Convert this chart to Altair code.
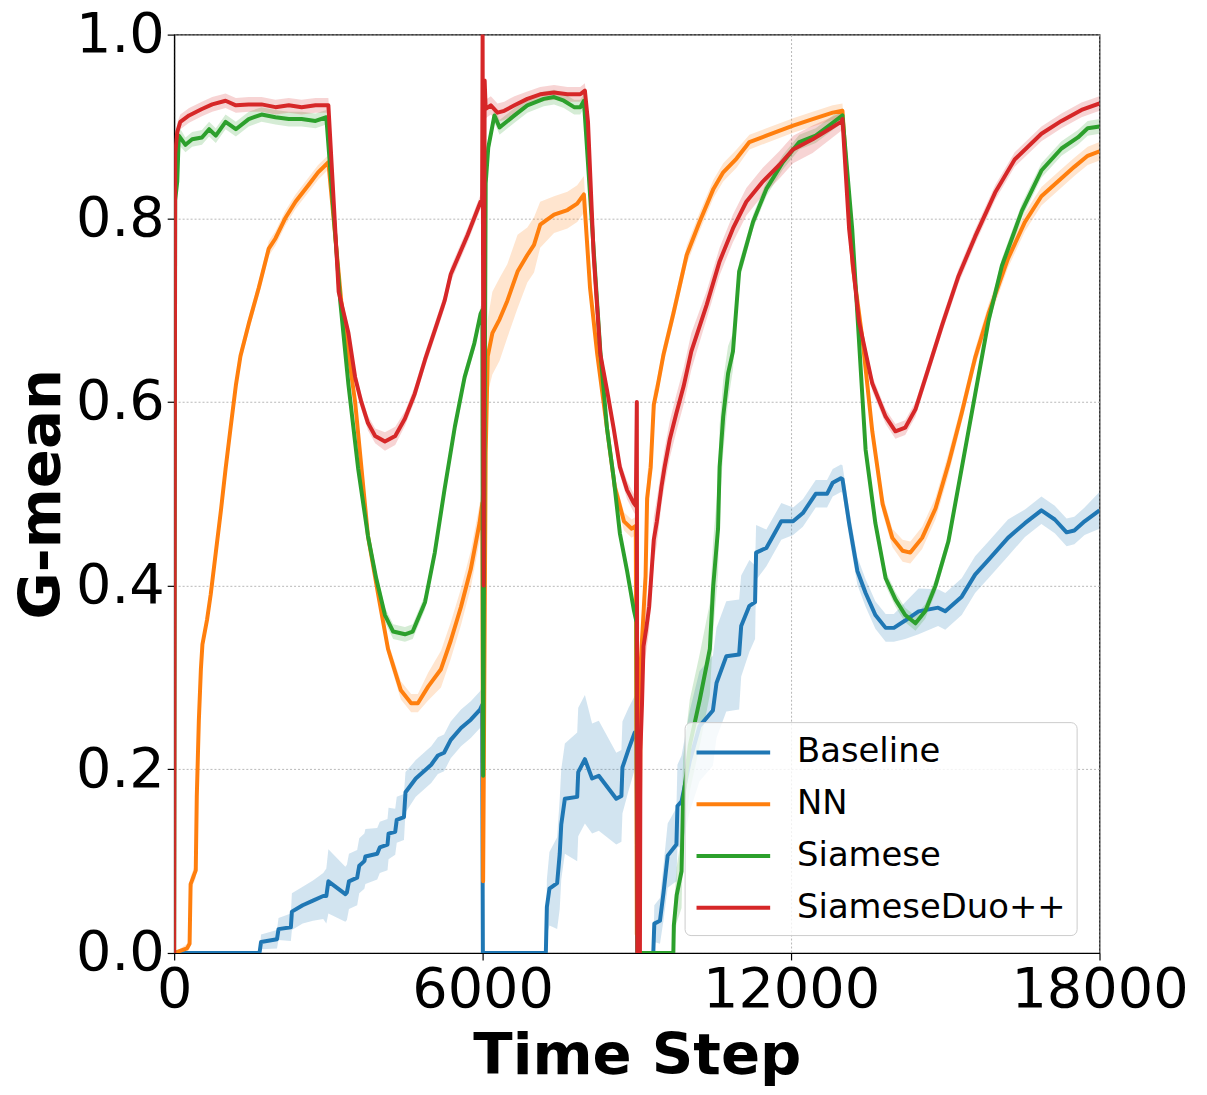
import altair as alt
import pandas as pd

SERIES = ["Baseline", "NN", "Siamese", "SiameseDuo++"]
COLORS = ["#1f77b4", "#ff7f0e", "#2ca02c", "#d62728"]
X_TICKS = [0, 6000, 12000, 18000]
Y_TICKS = [0.0, 0.2, 0.4, 0.6, 0.8, 1.0]

# (time step, mean G-mean, spread of shaded band)
BASELINE = [
    (0, 0.0, 0.0), (1660, 0.0, 0.0), (1690, 0.012, 0.008), (2000, 0.015, 0.01), (2030, 0.026, 0.012),
    (2270, 0.028, 0.015), (2290, 0.045, 0.02), (2500, 0.052, 0.02), (2700, 0.057, 0.022), (2900, 0.062, 0.025),
    (2960, 0.062, 0.03), (3000, 0.078, 0.035), (3330, 0.064, 0.03), (3360, 0.066, 0.03), (3400, 0.078, 0.03),
    (3560, 0.082, 0.03), (3600, 0.095, 0.03), (3700, 0.1, 0.03), (3720, 0.105, 0.03), (3950, 0.108, 0.028),
    (4000, 0.115, 0.028), (4150, 0.118, 0.028), (4170, 0.13, 0.028), (4300, 0.132, 0.025), (4330, 0.145, 0.025),
    (4470, 0.148, 0.025), (4500, 0.175, 0.022), (4700, 0.19, 0.02), (5000, 0.205, 0.02), (5130, 0.215, 0.02),
    (5250, 0.218, 0.02), (5380, 0.232, 0.02), (5580, 0.245, 0.02), (5770, 0.254, 0.02), (5950, 0.265, 0.02),
    (5990, 0.27, 0.02), (6005, 0.0, 0.0), (7230, 0.0, 0.0), (7250, 0.05, 0.03), (7300, 0.07, 0.04),
    (7450, 0.076, 0.05), (7500, 0.108, 0.06), (7530, 0.14, 0.06), (7600, 0.168, 0.06), (7840, 0.17, 0.07),
    (7860, 0.197, 0.07), (7990, 0.211, 0.07), (8130, 0.19, 0.06), (8260, 0.193, 0.06), (8600, 0.168, 0.05),
    (8700, 0.171, 0.05), (8720, 0.202, 0.05), (8840, 0.222, 0.045), (8960, 0.24, 0.04), (8995, 0.24, 0.04),
    (9010, 0.0, 0.0), (9320, 0.0, 0.0), (9340, 0.032, 0.02), (9450, 0.035, 0.025), (9520, 0.066, 0.03),
    (9600, 0.106, 0.035), (9770, 0.118, 0.04), (9790, 0.16, 0.045), (9870, 0.165, 0.05), (10030, 0.209, 0.055),
    (10220, 0.247, 0.06), (10480, 0.264, 0.06), (10550, 0.294, 0.06), (10740, 0.323, 0.06), (10990, 0.325, 0.06),
    (11030, 0.356, 0.055), (11190, 0.378, 0.05), (11300, 0.382, 0.04), (11320, 0.436, 0.03), (11520, 0.441, 0.02),
    (11810, 0.47, 0.02), (12040, 0.47, 0.015), (12230, 0.479, 0.015), (12480, 0.5, 0.015), (12700, 0.5, 0.015),
    (12810, 0.512, 0.015), (12970, 0.517, 0.015), (13000, 0.516, 0.015), (13130, 0.468, 0.015), (13290, 0.416, 0.015),
    (13450, 0.392, 0.015), (13640, 0.368, 0.015), (13840, 0.354, 0.015), (14000, 0.354, 0.015), (14220, 0.362, 0.02),
    (14480, 0.372, 0.025), (14860, 0.376, 0.02), (15000, 0.372, 0.02), (15320, 0.388, 0.02), (15580, 0.412, 0.02),
    (15840, 0.428, 0.02), (16220, 0.452, 0.02), (16550, 0.468, 0.015), (16870, 0.482, 0.015), (17130, 0.472, 0.015),
    (17360, 0.458, 0.015), (17510, 0.46, 0.015), (17710, 0.47, 0.015), (18000, 0.482, 0.02),
]

NN = [
    (0, 0.0, 0.0), (250, 0.005, 0.005), (300, 0.01, 0.005), (320, 0.075, 0.008), (420, 0.09, 0.008),
    (440, 0.17, 0.008), (480, 0.253, 0.008), (520, 0.309, 0.008), (550, 0.336, 0.008), (640, 0.363, 0.008),
    (710, 0.39, 0.008), (810, 0.436, 0.008), (910, 0.482, 0.008), (1000, 0.527, 0.008), (1100, 0.573, 0.008),
    (1200, 0.618, 0.008), (1290, 0.65, 0.008), (1450, 0.685, 0.008), (1645, 0.724, 0.008), (1840, 0.767, 0.008),
    (1970, 0.778, 0.008), (2160, 0.8, 0.008), (2360, 0.818, 0.008), (2610, 0.836, 0.008), (2800, 0.85, 0.008),
    (3000, 0.861, 0.008), (3250, 0.71, 0.008), (3520, 0.6, 0.008), (3770, 0.454, 0.008), (3970, 0.39, 0.008),
    (4160, 0.331, 0.008), (4410, 0.286, 0.01), (4610, 0.272, 0.01), (4740, 0.272, 0.01), (4940, 0.29, 0.015),
    (5190, 0.309, 0.02), (5380, 0.34, 0.02), (5580, 0.377, 0.02), (5770, 0.418, 0.02), (5940, 0.468, 0.02),
    (5995, 0.49, 0.02), (6010, 0.078, 0.01), (6060, 0.545, 0.04), (6100, 0.65, 0.04), (6190, 0.675, 0.045),
    (6330, 0.69, 0.045), (6480, 0.71, 0.04), (6680, 0.742, 0.04), (6870, 0.76, 0.03), (7000, 0.771, 0.03),
    (7120, 0.793, 0.025), (7390, 0.804, 0.02), (7650, 0.809, 0.02), (7840, 0.816, 0.02), (7970, 0.826, 0.02),
    (8090, 0.724, 0.01), (8230, 0.652, 0.01), (8420, 0.571, 0.01), (8570, 0.508, 0.01), (8750, 0.47, 0.01),
    (8900, 0.462, 0.01), (8980, 0.465, 0.01), (9000, 0.02, 0.01), (9060, 0.154, 0.03), (9080, 0.32, 0.03),
    (9130, 0.37, 0.03), (9170, 0.41, 0.03), (9200, 0.495, 0.025), (9270, 0.529, 0.02), (9330, 0.597, 0.015),
    (9390, 0.613, 0.01), (9520, 0.652, 0.01), (9710, 0.696, 0.01), (9970, 0.76, 0.01), (10220, 0.796, 0.01),
    (10490, 0.832, 0.01), (10680, 0.85, 0.01), (10940, 0.865, 0.01), (11190, 0.883, 0.008), (11520, 0.89, 0.008),
    (12040, 0.901, 0.008), (12420, 0.908, 0.008), (12810, 0.915, 0.008), (13000, 0.917, 0.008), (13200, 0.748, 0.008),
    (13390, 0.668, 0.008), (13580, 0.568, 0.008), (13780, 0.489, 0.01), (13970, 0.452, 0.01), (14170, 0.438, 0.012),
    (14320, 0.436, 0.012), (14550, 0.452, 0.012), (14810, 0.484, 0.012), (15060, 0.532, 0.012), (15320, 0.588, 0.01),
    (15580, 0.648, 0.01), (15840, 0.696, 0.01), (16220, 0.756, 0.01), (16550, 0.796, 0.01), (16870, 0.824, 0.01),
    (17190, 0.84, 0.01), (17510, 0.856, 0.01), (17770, 0.868, 0.01), (18000, 0.873, 0.01),
]

SIAMESE = [
    (0, 0.0, 0.0), (20, 0.82, 0.01), (60, 0.84, 0.01), (90, 0.89, 0.01), (220, 0.88, 0.008),
    (350, 0.886, 0.008), (540, 0.888, 0.008), (680, 0.897, 0.008), (810, 0.89, 0.008), (1000, 0.905, 0.008),
    (1200, 0.897, 0.008), (1450, 0.908, 0.008), (1700, 0.913, 0.008), (1970, 0.91, 0.008), (2230, 0.908, 0.008),
    (2480, 0.908, 0.008), (2750, 0.906, 0.008), (2960, 0.91, 0.008), (3230, 0.71, 0.008), (3390, 0.619, 0.008),
    (3580, 0.527, 0.008), (3770, 0.454, 0.008), (3930, 0.408, 0.008), (4100, 0.368, 0.008), (4260, 0.35, 0.008),
    (4490, 0.347, 0.008), (4640, 0.35, 0.008), (4880, 0.382, 0.008), (5070, 0.436, 0.008), (5260, 0.505, 0.008),
    (5460, 0.573, 0.008), (5650, 0.627, 0.008), (5840, 0.664, 0.008), (5960, 0.696, 0.008), (5995, 0.7, 0.008),
    (6010, 0.193, 0.008), (6060, 0.838, 0.01), (6110, 0.877, 0.01), (6230, 0.912, 0.008), (6330, 0.899, 0.008),
    (6620, 0.912, 0.008), (6870, 0.923, 0.008), (7190, 0.93, 0.008), (7390, 0.932, 0.008), (7580, 0.928, 0.008),
    (7780, 0.921, 0.008), (7900, 0.921, 0.008), (7970, 0.928, 0.008), (8290, 0.655, 0.008), (8420, 0.571, 0.008),
    (8550, 0.517, 0.008), (8670, 0.457, 0.008), (8810, 0.416, 0.008), (8940, 0.374, 0.008), (8995, 0.36, 0.008),
    (9010, 0.0, 0.0), (9710, 0.0, 0.0), (9720, 0.03, 0.02), (9775, 0.063, 0.03), (9870, 0.089, 0.04),
    (9900, 0.167, 0.045), (10030, 0.226, 0.05), (10225, 0.276, 0.05), (10420, 0.331, 0.05), (10485, 0.399, 0.05),
    (10580, 0.462, 0.05), (10610, 0.529, 0.045), (10680, 0.584, 0.04), (10775, 0.631, 0.03), (10870, 0.655, 0.02),
    (10990, 0.742, 0.01), (11260, 0.796, 0.008), (11520, 0.832, 0.008), (11840, 0.861, 0.008), (12160, 0.883, 0.008),
    (12480, 0.89, 0.008), (12740, 0.901, 0.008), (13000, 0.912, 0.008), (13190, 0.788, 0.008), (13320, 0.668, 0.008),
    (13450, 0.548, 0.008), (13640, 0.468, 0.008), (13840, 0.408, 0.008), (14030, 0.385, 0.008), (14220, 0.368, 0.008),
    (14420, 0.359, 0.008), (14610, 0.372, 0.008), (14810, 0.4, 0.008), (15060, 0.448, 0.008), (15320, 0.528, 0.008),
    (15580, 0.608, 0.008), (15840, 0.688, 0.008), (16100, 0.748, 0.008), (16490, 0.808, 0.008), (16870, 0.852, 0.008),
    (17260, 0.876, 0.008), (17580, 0.888, 0.008), (17770, 0.898, 0.008), (18000, 0.9, 0.008),
]

DUO = [
    (0, 0.0, 0.0), (20, 0.87, 0.01), (60, 0.894, 0.01), (120, 0.905, 0.008), (290, 0.912, 0.008),
    (540, 0.919, 0.008), (740, 0.924, 0.008), (1000, 0.928, 0.008), (1200, 0.923, 0.008), (1450, 0.924, 0.008),
    (1700, 0.924, 0.008), (1970, 0.921, 0.008), (2230, 0.923, 0.008), (2480, 0.921, 0.008), (2750, 0.923, 0.008),
    (3000, 0.923, 0.008), (3200, 0.72, 0.008), (3390, 0.675, 0.008), (3520, 0.627, 0.008), (3640, 0.6, 0.008),
    (3770, 0.577, 0.008), (3910, 0.563, 0.008), (4100, 0.557, 0.01), (4300, 0.563, 0.01), (4490, 0.582, 0.008),
    (4680, 0.609, 0.008), (4880, 0.646, 0.008), (5070, 0.678, 0.008), (5260, 0.71, 0.008), (5380, 0.739, 0.008),
    (5710, 0.782, 0.008), (5960, 0.818, 0.008), (5990, 0.82, 0.008), (6000, 1.0, 0.0), (6020, 0.4, 0.0),
    (6040, 0.95, 0.01), (6060, 0.919, 0.01), (6160, 0.923, 0.01), (6290, 0.915, 0.01), (6420, 0.917, 0.01),
    (6620, 0.923, 0.01), (6870, 0.93, 0.008), (7120, 0.935, 0.008), (7390, 0.937, 0.008), (7650, 0.935, 0.008),
    (7900, 0.935, 0.008), (7990, 0.939, 0.008), (8050, 0.905, 0.008), (8160, 0.76, 0.008), (8290, 0.652, 0.008),
    (8420, 0.613, 0.008), (8550, 0.571, 0.008), (8670, 0.529, 0.008), (8810, 0.504, 0.01), (8940, 0.49, 0.01),
    (8980, 0.487, 0.01), (9000, 0.6, 0.0), (9010, 0.0, 0.0), (9060, 0.0, 0.0), (9070, 0.22, 0.02),
    (9100, 0.27, 0.025), (9130, 0.334, 0.025), (9180, 0.352, 0.025), (9240, 0.377, 0.025), (9330, 0.45, 0.025),
    (9390, 0.47, 0.025), (9480, 0.508, 0.02), (9540, 0.529, 0.02), (9640, 0.559, 0.02), (9770, 0.588, 0.02),
    (9910, 0.617, 0.02), (10060, 0.655, 0.02), (10360, 0.706, 0.015), (10610, 0.753, 0.015), (10870, 0.789, 0.015),
    (11130, 0.818, 0.015), (11450, 0.84, 0.015), (11770, 0.858, 0.015), (12040, 0.875, 0.015), (12420, 0.886, 0.015),
    (12740, 0.897, 0.012), (12970, 0.905, 0.01), (13000, 0.908, 0.01), (13130, 0.788, 0.008), (13320, 0.688, 0.008),
    (13580, 0.62, 0.008), (13840, 0.584, 0.008), (14030, 0.568, 0.008), (14220, 0.572, 0.008), (14420, 0.592, 0.008),
    (14670, 0.636, 0.008), (14940, 0.684, 0.008), (15250, 0.736, 0.008), (15580, 0.78, 0.008), (15970, 0.828, 0.008),
    (16350, 0.864, 0.008), (16870, 0.892, 0.008), (17260, 0.906, 0.008), (17650, 0.918, 0.008), (18000, 0.925, 0.008),
]

rows = []
for name, pts in zip(SERIES, [BASELINE, NN, SIAMESE, DUO]):
    for i, (t, v, s) in enumerate(pts):
        rows.append({"series": name, "idx": i, "t": t, "v": v,
                     "lo": max(v - s, 0.0), "hi": min(v + s, 1.0)})
df = pd.DataFrame(rows)

FONT = "DejaVu Sans"

legend = alt.Legend(
    title=None, orient="none", legendX=513, legendY=691,
    symbolType="M-1,0H3", symbolSize=1369, symbolStrokeWidth=4, symbolOpacity=1,
    labelFontSize=34, labelFont=FONT, labelColor="black", labelOffset=62,
    rowPadding=14, padding=10, cornerRadius=6,
    fillColor="rgba(255,255,255,0.8)", strokeColor="#cccccc",
    labelLimit=500,
)

color = alt.Color("series:N", scale=alt.Scale(domain=SERIES, range=COLORS), legend=legend,
                  sort=SERIES)

x = alt.X("t:Q", scale=alt.Scale(domain=[0, 18000], nice=False, zero=False),
          axis=alt.Axis(values=X_TICKS, title="Time Step", labelFlush=False, labelOverlap=False,
                        format="d"))
y_axis = alt.Axis(values=Y_TICKS, title="G-mean", format=".1f", labelFlush=False, labelOverlap=False)
y_scale = alt.Scale(domain=[0, 1], nice=False)

base = alt.Chart(df)

bands = base.mark_area(opacity=0.2, clip=True).encode(
    x=x,
    y=alt.Y("lo:Q", scale=y_scale, axis=y_axis),
    y2=alt.Y2("hi:Q"),
    color=color,
)

lines = base.mark_line(strokeWidth=4, clip=True, strokeJoin="round").encode(
    x=x,
    y=alt.Y("v:Q", scale=y_scale, axis=y_axis),
    color=color,
    order=alt.Order("idx:Q"),
)

chart = alt.layer(bands, lines).properties(
    width=930, height=923,
    padding={"left": 167, "top": 24, "right": 100, "bottom": 140},
    autosize=alt.AutoSizeParams(type="none"),
).configure_view(
    stroke="black", strokeWidth=1.2
).configure_axis(
    labelFont=FONT, labelFontSize=56, labelColor="black",
    titleFont=FONT, titleFontSize=58, titleFontWeight="bold", titleColor="black",
    tickColor="black", tickSize=7, tickWidth=1.2,
    domainColor="black", domainWidth=1.2,
    grid=True, gridColor="#b0b0b0", gridDash=[2, 2], gridWidth=0.9,
    labelPadding=3,
).configure_axisX(
    titlePadding=10,
).configure_axisY(
    titlePadding=4,
)

chart.save("out.html", embed_options={"renderer": "svg", "actions": False})
